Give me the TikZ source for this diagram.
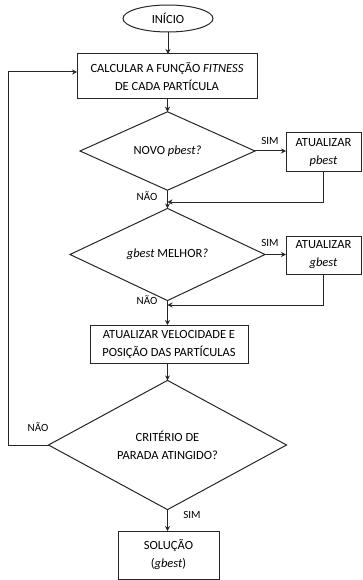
\documentclass[tikz,border=0pt]{standalone}
\usepackage{fontspec}
\setmainfont{Carlito}
\usetikzlibrary{shapes.geometric,arrows.meta}
\begin{document}
\begin{tikzpicture}[x=1pt,y=-1pt,
  every node/.style={inner sep=0pt,outer sep=0pt},
  base/.style={draw=black!85,line width=1pt,align=center,font=\fontsize{12.5}{18}\selectfont},
  boxn/.style={base,rectangle},
  dia/.style={base,diamond},
  ell/.style={base,ellipse},
  lbl/.style={font=\fontsize{11}{13}\selectfont},
  conn/.style={draw=black!85,line width=1pt},
  arr/.style={conn,-{Stealth[length=5pt,width=5pt]}}]
\useasboundingbox (0,0) rectangle (362,580);
\node[ell,minimum width=90pt,minimum height=27pt] (start) at (168,18.5) {INÍCIO};
\node[boxn,minimum width=180pt,minimum height=45pt] (calc) at (167,76.5) {CALCULAR A FUNÇÃO \textit{FITNESS}\\DE CADA PARTÍCULA};
\node[dia,minimum width=175pt,minimum height=64pt] (d1) at (167.5,151) {NOVO \textit{pbest?}};
\node[boxn,minimum width=75pt,minimum height=38pt] (pb) at (323.5,152) {ATUALIZAR\\\textit{pbest}};
\node[dia,minimum width=195pt,minimum height=65pt] (d2) at (167.5,254.5) {\textit{gbest} MELHOR\textit{?}};
\node[boxn,minimum width=75pt,minimum height=38pt] (gb) at (323.5,255) {ATUALIZAR\\\textit{gbest}};
\node[boxn,minimum width=158pt,minimum height=38pt] (upd) at (169,344) {ATUALIZAR VELOCIDADE E\\POSIÇÃO DAS PARTÍCULAS};
\node[dia,minimum width=238pt,minimum height=104pt] (d3) at (167.5,445) {CRITÉRIO DE\\PARADA ATINGIDO?};
\node[boxn,minimum width=101pt,minimum height=48pt] (sol) at (168.5,555) {SOLUÇÃO\\(\textit{gbest})};
\coordinate (m1) at (167.5,202);
\coordinate (m2) at (167.5,305);
\coordinate (c1) at (8,445);
\coordinate (c2) at (8,72);
\coordinate (c3) at (77,72);
\draw[arr] (start) -- (start|-calc.north);
\draw[arr] (calc.south-|d1) -- (d1.north);
\draw[arr] (d1.east) -- (d1.east-|pb.west);
\draw[arr] (pb.south) |- (m1);
\draw[arr] (d1.south) -- (d2.north);
\draw[arr] (d2.east) -- (d2.east-|gb.west);
\draw[arr] (gb.south) |- (m2);
\draw[arr] (d2.south) -- (d2.south|-upd.north);
\draw[arr] (upd.south-|d3) -- (d3.north);
\draw[arr] (d3.west) -- (c1) -- (c2) -- (c3);
\draw[arr] (d3.south) -- (sol.north-|d3);
\node[lbl] (s1) at (270,141) {SIM};
\node[lbl] (s2) at (270,243) {SIM};
\node[lbl] (n1) at (147,196) {NÃO};
\node[lbl] (n2) at (147,300) {NÃO};
\node[lbl] (n3) at (38,427) {NÃO};
\node[lbl] (s3) at (192,515) {SIM};
\end{tikzpicture}
\end{document}
